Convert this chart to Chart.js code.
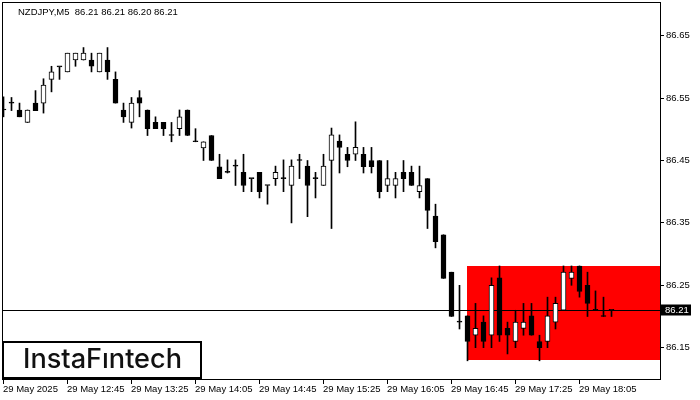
<!DOCTYPE html>
<html>
<head>
<meta charset="utf-8">
<script src="https://cdn.jsdelivr.net/npm/chart.js@4"></script>
<style>
  html, body { margin: 0; padding: 0; background: #fff; }
  canvas { display: block; }
</style>
</head>
<body>
<canvas id="chart" width="700" height="400"></canvas>
<script>
// NZDJPY M5 candles
const open = [
  86.531, 86.542, 86.531, 86.511, 86.542, 86.542, 86.580, 86.600, 86.592, 86.611,
  86.611, 86.611, 86.592, 86.611, 86.580, 86.531, 86.511, 86.551, 86.531, 86.511,
  86.511, 86.490, 86.501, 86.531, 86.480, 86.470, 86.490, 86.440, 86.431, 86.441,
  86.431, 86.421, 86.431, 86.410, 86.421, 86.421, 86.410, 86.450, 86.441, 86.421,
  86.410, 86.450, 86.481, 86.460, 86.460, 86.460, 86.450, 86.450, 86.410, 86.410,
  86.431, 86.431, 86.400, 86.421, 86.361, 86.331, 86.271, 86.191, 86.201, 86.170,
  86.191, 86.170, 86.262, 86.181, 86.160, 86.181, 86.201, 86.160, 86.160, 86.191,
  86.210, 86.261, 86.281, 86.250, 86.210, 86.200, 86.210
];
const high = [
  86.552, 86.551, 86.542, 86.531, 86.562, 86.581, 86.601, 86.600, 86.622, 86.622,
  86.631, 86.622, 86.622, 86.631, 86.592, 86.542, 86.551, 86.562, 86.531, 86.520,
  86.511, 86.511, 86.531, 86.531, 86.501, 86.480, 86.490, 86.460, 86.451, 86.451,
  86.460, 86.421, 86.431, 86.410, 86.441, 86.451, 86.451, 86.460, 86.450, 86.431,
  86.460, 86.502, 86.491, 86.471, 86.512, 86.471, 86.471, 86.450, 86.450, 86.431,
  86.450, 86.441, 86.441, 86.421, 86.380, 86.331, 86.271, 86.250, 86.201, 86.221,
  86.201, 86.262, 86.281, 86.191, 86.210, 86.221, 86.221, 86.170, 86.231, 86.231,
  86.281, 86.281, 86.281, 86.271, 86.241, 86.231, 86.210
];
const low = [
  86.520, 86.530, 86.520, 86.511, 86.530, 86.526, 86.560, 86.580, 86.592, 86.601,
  86.611, 86.592, 86.592, 86.580, 86.542, 86.511, 86.502, 86.520, 86.490, 86.501,
  86.490, 86.480, 86.490, 86.490, 86.480, 86.450, 86.450, 86.421, 86.430, 86.410,
  86.400, 86.400, 86.390, 86.380, 86.410, 86.400, 86.350, 86.421, 86.360, 86.390,
  86.410, 86.341, 86.430, 86.440, 86.450, 86.430, 86.430, 86.390, 86.400, 86.390,
  86.400, 86.410, 86.390, 86.341, 86.310, 86.261, 86.200, 86.180, 86.129, 86.150,
  86.150, 86.150, 86.160, 86.140, 86.150, 86.170, 86.170, 86.129, 86.150, 86.180,
  86.210, 86.250, 86.231, 86.200, 86.210, 86.200, 86.200
];
const close = [
  86.531, 86.542, 86.520, 86.531, 86.530, 86.571, 86.592, 86.600, 86.622, 86.622,
  86.622, 86.601, 86.622, 86.592, 86.542, 86.520, 86.542, 86.542, 86.501, 86.501,
  86.501, 86.490, 86.520, 86.490, 86.480, 86.480, 86.450, 86.421, 86.431, 86.441,
  86.410, 86.421, 86.400, 86.410, 86.431, 86.421, 86.441, 86.450, 86.410, 86.421,
  86.441, 86.491, 86.471, 86.450, 86.471, 86.440, 86.440, 86.400, 86.421, 86.421,
  86.421, 86.410, 86.410, 86.370, 86.320, 86.261, 86.200, 86.191, 86.160, 86.181,
  86.160, 86.250, 86.170, 86.170, 86.191, 86.191, 86.170, 86.150, 86.201, 86.221,
  86.271, 86.271, 86.240, 86.221, 86.210, 86.200, 86.210
];

const timeLabels = ['29 May 2025', '29 May 12:45', '29 May 13:25', '29 May 14:05', '29 May 14:45',
                    '29 May 15:25', '29 May 16:05', '29 May 16:45', '29 May 17:25', '29 May 18:05'];
const timeTickBars = [0, 8, 16, 24, 32, 40, 48, 56, 64, 72];
const priceTicks = [86.65, 86.55, 86.45, 86.35, 86.25, 86.15];

const lastPrice = 86.21;
const zoneStartBar = 58;
const zoneTop = 86.28;
const zoneBottom = 86.13;
const title = 'NZDJPY,M5  86.21 86.21 86.20 86.21';
const logoText = 'InstaF\u0131ntech';

const wicks = open.map((o, i) => ({ x: i, y: [low[i], high[i]] }));
const bodies = open.map((o, i) => ({ x: i, y: [Math.min(o, close[i]), Math.max(o, close[i])] }));
const bodyFill = open.map((o, i) => close[i] > o ? '#ffffff' : '#000000');

const FONT = '9.5px "Liberation Sans", Arial, sans-serif';

const terminalLook = {
  id: 'terminalLook',
  beforeDatasetsDraw(chart) {
    const { ctx, chartArea: a, scales: { x, y } } = chart;
    ctx.save();
    // red pattern zone
    const zx = Math.floor(x.getPixelForValue(zoneStartBar));
    const zt = Math.floor(y.getPixelForValue(zoneTop));
    const zb = Math.floor(y.getPixelForValue(zoneBottom));
    ctx.fillStyle = '#ff0000';
    ctx.fillRect(zx, zt, a.right - zx, zb - zt);
    // bid line
    const ly = Math.floor(y.getPixelForValue(lastPrice)) + 0.5;
    ctx.strokeStyle = '#000';
    ctx.lineWidth = 1;
    ctx.beginPath();
    ctx.moveTo(a.left, ly);
    ctx.lineTo(a.right, ly);
    ctx.stroke();
    ctx.restore();
  },
  afterDraw(chart) {
    const { ctx, chartArea: a, scales: { x, y } } = chart;
    ctx.save();
    ctx.strokeStyle = '#000';
    ctx.lineWidth = 1;
    ctx.strokeRect(a.left + 0.5, a.top + 0.5, a.right - a.left, a.bottom - a.top);

    ctx.font = FONT;
    ctx.fillStyle = '#000';

    // price axis
    ctx.textBaseline = 'middle';
    ctx.textAlign = 'left';
    priceTicks.forEach(p => {
      const py = Math.floor(y.getPixelForValue(p)) + 0.5;
      ctx.beginPath();
      ctx.moveTo(a.right, py);
      ctx.lineTo(a.right + 4, py);
      ctx.stroke();
      ctx.fillText(p.toFixed(2), a.right + 6, py);
    });

    // time axis
    ctx.textBaseline = 'middle';
    timeTickBars.forEach((b, k) => {
      const px = Math.floor(x.getPixelForValue(b)) + 0.5;
      ctx.beginPath();
      ctx.moveTo(px, a.bottom);
      ctx.lineTo(px, a.bottom + 5);
      ctx.stroke();
      ctx.fillText(timeLabels[k], px - 0.5, a.bottom + 10);
    });

    // last price box
    const ly = Math.floor(y.getPixelForValue(lastPrice)) + 0.5;
    ctx.fillStyle = '#000';
    ctx.fillRect(a.right + 1, ly - 6, 30, 11);
    ctx.fillStyle = '#fff';
    ctx.fillText(lastPrice.toFixed(2), a.right + 5, ly);

    // title
    ctx.fillStyle = '#000';
    ctx.fillText(title, 18, 12);

    // logo
    ctx.fillStyle = '#fff';
    ctx.fillRect(3, 342, 198, 36);
    ctx.lineWidth = 2;
    ctx.strokeRect(3, 342, 198, 36);
    let size = 25;
    ctx.font = '500 ' + size + 'px Inter, "Noto Sans", sans-serif';
    const w = ctx.measureText(logoText).width;
    size = size * 159 / w;
    ctx.font = '500 ' + size.toFixed(2) + 'px Inter, "Noto Sans", sans-serif';
    ctx.fillStyle = '#111';
    ctx.textBaseline = 'alphabetic';
    ctx.fillText(logoText, 23, 368);
    ctx.restore();
  }
};

new Chart(document.getElementById('chart'), {
  type: 'bar',
  data: {
    datasets: [
      {
        label: 'body',
        data: bodies,
        backgroundColor: bodyFill,
        borderColor: '#000',
        borderWidth: 1,
        borderSkipped: false,
        barThickness: 5,
        minBarLength: 1,
        grouped: false,
        order: 0
      },
      {
        label: 'wick',
        data: wicks,
        backgroundColor: '#000',
        borderWidth: 0,
        barThickness: 1,
        grouped: false,
        order: 1
      }
    ]
  },
  options: {
    responsive: false,
    animation: false,
    devicePixelRatio: 1,
    layout: { padding: { left: 2, top: 2, right: 40, bottom: 21 } },
    plugins: { legend: { display: false }, tooltip: { enabled: false } },
    scales: {
      x: { type: 'linear', display: false, min: -0.1875, max: 82.0625, offset: false },
      y: { type: 'linear', display: false, min: 86.09984, max: 86.70401 }
    }
  },
  plugins: [terminalLook]
});
</script>
</body>
</html>
